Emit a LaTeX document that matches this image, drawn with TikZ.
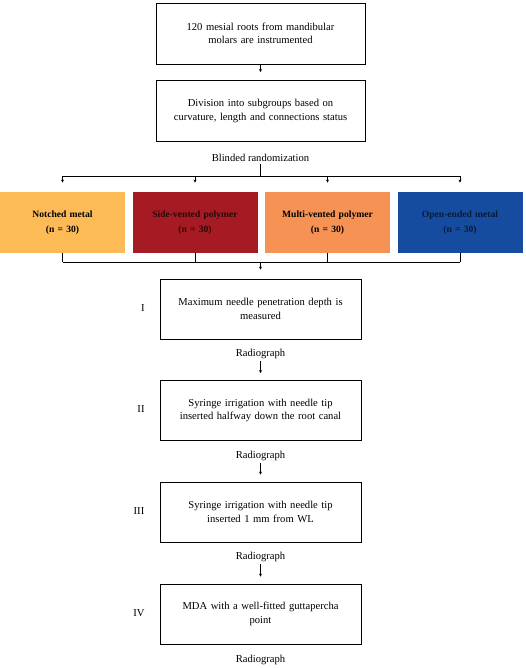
\documentclass[tikz,border=0pt]{standalone}
\usepackage{fontspec}
\setmainfont{Liberation Serif}
\usetikzlibrary{arrows.meta}
\definecolor{notched}{HTML}{FDBB57}
\definecolor{sidevent}{HTML}{A61B23}
\definecolor{multivent}{HTML}{F69253}
\definecolor{openend}{HTML}{164CA0}
\begin{document}
\begin{tikzpicture}[x=1pt,y=-1pt,
    line width=.9pt,
    stepbox/.style={draw, minimum width=209pt, minimum height=61pt, text width=196pt, align=center, font=\fontsize{10.6}{13.5}\selectfont},
    smallbox/.style={stepbox, minimum width=201pt, minimum height=60pt, text width=188pt},
    groupbox/.style={minimum width=125pt, minimum height=61pt, text width=118pt, align=center, font=\bfseries\fontsize{9.6}{15.5}\selectfont},
    plain/.style={font=\fontsize{10.6}{12}\selectfont, inner sep=2pt},
    arr/.style={-{Stealth[length=3pt,width=3pt]}}]
    \useasboundingbox (0,0) rectangle (525,668);
    \node[stepbox] (roots) at (260.5,33.5) {120 mesial roots from mandibular\\molars are instrumented};
    \node[stepbox] (division) at (260.5,111) {Division into subgroups based on\\curvature, length and connections status};
    \node[plain] (blind) at (260.5,158) {Blinded randomization};
    \draw[arr, shorten >=8pt] (roots) -- (division);
    % the four needle groups
    \node[groupbox, fill=notched] (g1) at (62.5,222.5) {Notched metal\\(n = 30)};
    \node[groupbox, fill=sidevent, text=sidevent!25!black] (g2) at (195,222.5) {Side-vented polymer\\(n = 30)};
    \node[groupbox, fill=multivent] (g3) at (327.5,222.5) {Multi-vented polymer\\(n = 30)};
    \node[groupbox, fill=openend, text=openend!35!black] (g4) at (460,222.5) {Open-ended metal\\(n = 30)};
    \coordinate (split) at (260.5,176);
    \coordinate (merge) at (260.5,262);
    \draw (blind) -- (split);
    \draw (split -| g1) -- (split -| g4);
    \draw (merge -| g1) -- (merge -| g4);
    \foreach \g in {g1,g2,g3,g4} {
        \draw[arr, shorten >=9pt] (split -| \g) -- (\g.north);
        \draw (\g.south) -- (merge -| \g);
    }
    % irrigation steps
    \node[smallbox] (s1) at (260.5,309) {Maximum needle penetration depth is\\measured};
    \node[smallbox] (s2) at (260.5,410.5) {Syringe irrigation with needle tip\\inserted halfway down the root canal};
    \node[smallbox] (s3) at (260.5,512) {Syringe irrigation with needle tip\\inserted 1 mm from WL};
    \node[smallbox] (s4) at (260.5,614) {MDA with a well-fitted guttapercha\\point};
    \node[plain] (r1) at (260.5,354) {Radiograph};
    \node[plain] (r2) at (260.5,456) {Radiograph};
    \node[plain] (r3) at (260.5,557) {Radiograph};
    \node[plain] (r4) at (260.5,660) {Radiograph};
    \node[plain] at (143,308) {I};
    \node[plain] at (141,409) {II};
    \node[plain] at (139,511) {III};
    \node[plain] at (139,613) {IV};
    \draw[arr, shorten >=9pt] (merge) -- (s1);
    \draw[arr, shorten >=7pt] (r1) -- (s2);
    \draw[arr, shorten >=7pt] (r2) -- (s3);
    \draw[arr, shorten >=7pt] (r3) -- (s4);
\end{tikzpicture}
\end{document}
